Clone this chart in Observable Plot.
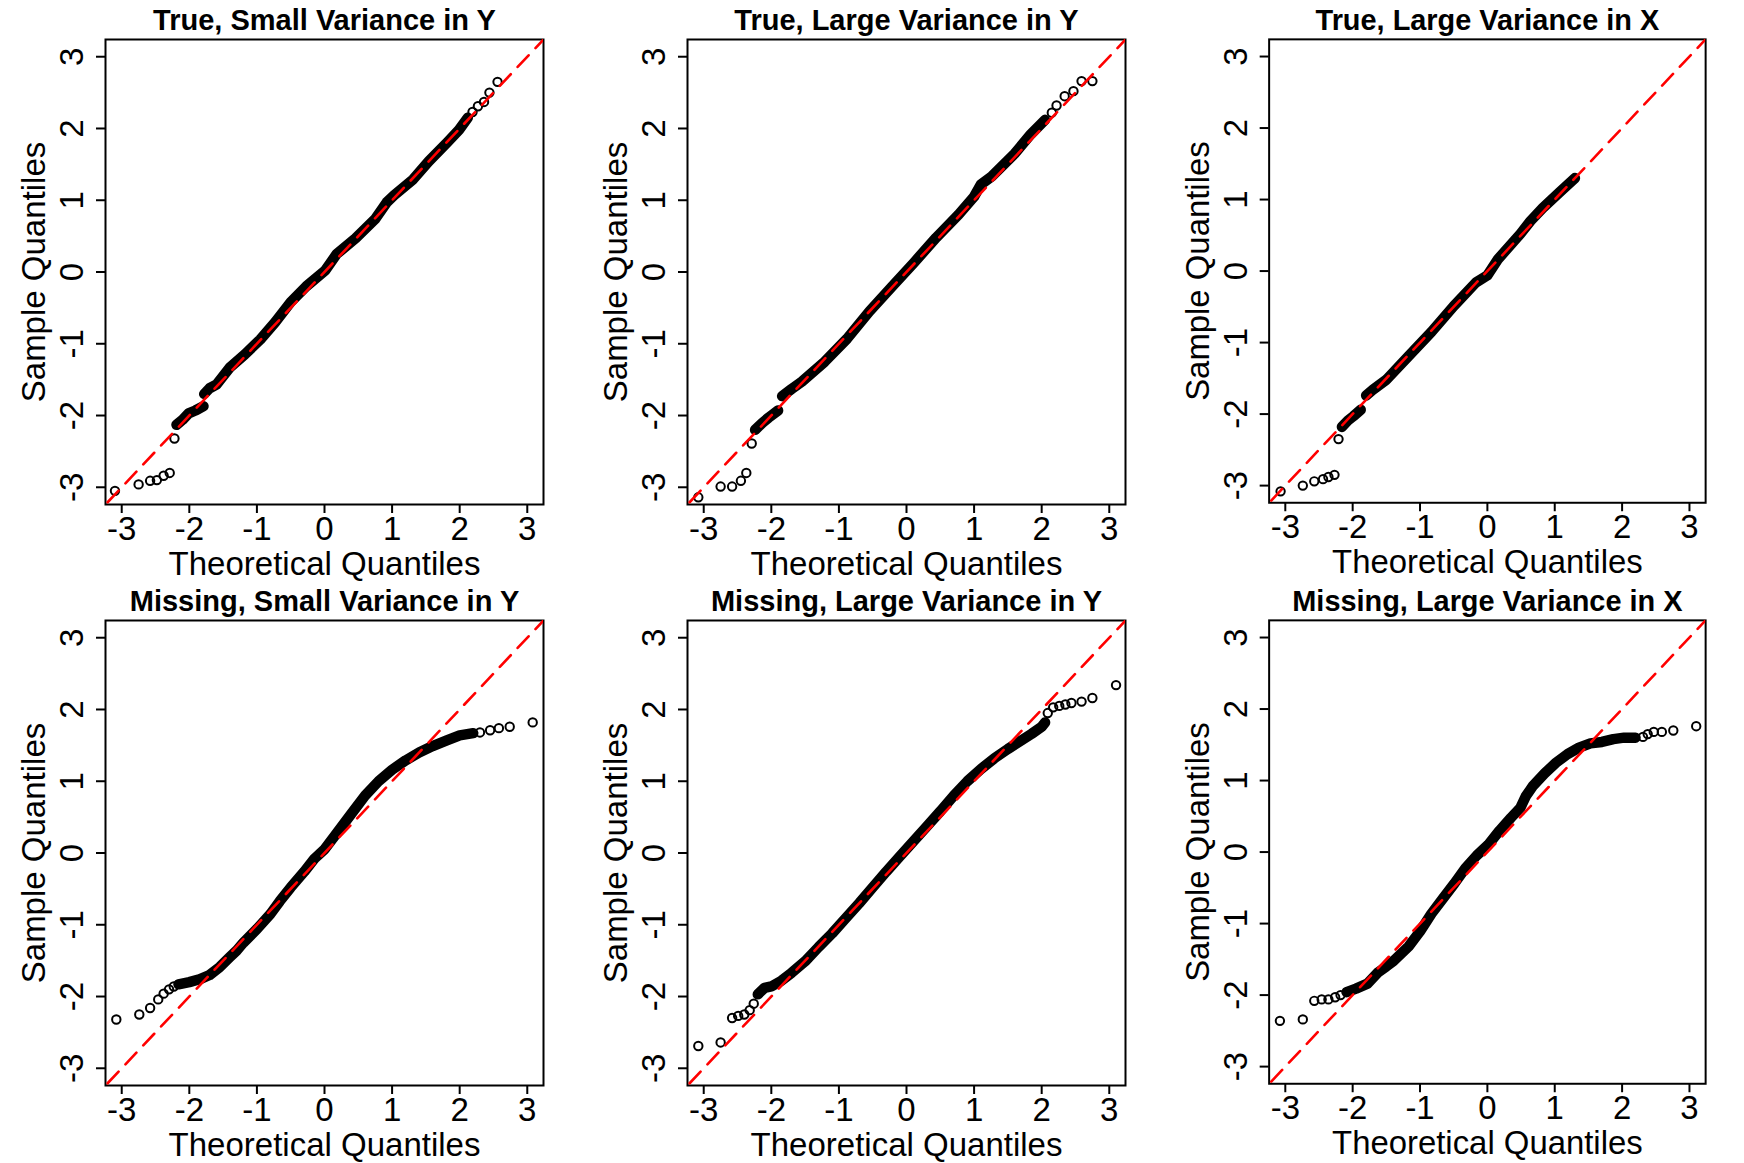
<!DOCTYPE html>
<html><head><meta charset="utf-8">
<script src="https://cdn.jsdelivr.net/npm/d3@7"></script>
<script src="https://cdn.jsdelivr.net/npm/@observablehq/plot@0.6"></script>
<style>
html,body{margin:0;padding:0;background:#fff;}
#chart{position:relative;width:1744px;height:1163px;overflow:hidden;background:#fff;}
#chart > div{position:absolute;}
</style></head><body><div id="chart"></div>
<script>
// ---- data ----
const titles = [
  "True, Small Variance in Y", "True, Large Variance in Y", "True, Large Variance in X",
  "Missing, Small Variance in Y", "Missing, Large Variance in Y", "Missing, Large Variance in X"
];
const tickValues = [-3, -2, -1, 0, 1, 2, 3];
const xLabel = "Theoretical Quantiles";
const yLabel = "Sample Quantiles";
const qqLineRange = [-4, 4]; // reference line y = x

// [theoretical, sample] pairs
const trueSmallYTails = [[-3.10,-3.05],[-2.75,-2.96],[-2.58,-2.91],[-2.48,-2.90],[-2.38,-2.84],[-2.29,-2.80],[-2.22,-2.32],
  [2.19,2.23],[2.27,2.31],[2.36,2.37],[2.44,2.50],[2.56,2.65]];
const trueSmallYBands = [
  [[-2.19,-2.13],[-2.10,-2.06],[-2.01,-1.97],[-1.91,-1.93],[-1.79,-1.87]],
  [[-1.78,-1.70],[-1.70,-1.62],[-1.60,-1.57],[-1.49,-1.44],[-1.40,-1.33],[-1.18,-1.15],[-0.95,-0.94],[-0.73,-0.70],
   [-0.50,-0.42],[-0.27,-0.20],[0.01,0.02],[0.18,0.25],[0.46,0.47],[0.75,0.74],[0.92,0.97],[1.03,1.07],[1.31,1.29],
   [1.54,1.54],[1.82,1.81],[1.99,1.98],[2.12,2.15]]
];

const trueLargeYTails = [[-3.08,-3.14],[-2.75,-2.99],[-2.58,-2.99],[-2.45,-2.91],[-2.37,-2.80],[-2.29,-2.39],
  [2.15,2.22],[2.22,2.32],[2.34,2.45],[2.47,2.52],[2.59,2.66],[2.75,2.66]];
const trueLargeYBands = [
  [[-2.24,-2.20],[-2.13,-2.10],[-2.04,-2.03],[-1.90,-1.93]],
  [[-1.84,-1.73],[-1.70,-1.63],[-1.55,-1.53],[-1.21,-1.25],[-0.88,-0.93],[-0.55,-0.55],[-0.22,-0.21],[0.11,0.13],
   [0.44,0.48],[0.77,0.80],[1.00,1.05],[1.10,1.22],[1.26,1.33],[1.60,1.65],[1.84,1.92],[2.05,2.12]]
];

const trueLargeXTails = [[-3.07,-3.08],[-2.74,-3.00],[-2.57,-2.94],[-2.44,-2.91],[-2.36,-2.88],[-2.27,-2.85],[-2.21,-2.35]];
const trueLargeXBands = [
  [[-2.16,-2.18],[-2.07,-2.09],[-1.99,-2.03],[-1.88,-1.94]],
  [[-1.80,-1.74],[-1.70,-1.66],[-1.50,-1.52],[-1.17,-1.19],[-0.83,-0.85],[-0.50,-0.49],[-0.17,-0.16],[0.00,-0.06],
   [0.16,0.17],[0.49,0.52],[0.64,0.70],[0.82,0.88],[1.07,1.10],[1.30,1.30]]
];

const missSmallYTails = [[-3.08,-2.32],[-2.74,-2.25],[-2.58,-2.16],[-2.46,-2.04],[-2.38,-1.96],[-2.30,-1.90],[-2.23,-1.86],
  [2.30,1.68],[2.45,1.71],[2.58,1.74],[2.74,1.76],[3.08,1.82]];
const missSmallYBands = [
  [[-2.16,-1.83],[-2.00,-1.80],[-1.85,-1.76],[-1.70,-1.70],[-1.55,-1.59],[-1.40,-1.45],[-1.30,-1.36],[-1.20,-1.25],
   [-1.00,-1.06],[-0.80,-0.85],[-0.66,-0.67],[-0.50,-0.48],[-0.30,-0.26],[-0.15,-0.08],[0.00,0.05],[0.20,0.30],
   [0.40,0.55],[0.60,0.80],[0.80,1.00],[1.00,1.16],[1.20,1.29],[1.40,1.40],[1.60,1.49],[1.81,1.57],[2.00,1.64],[2.20,1.67]]
];

const missLargeYTails = [[-3.08,-2.69],[-2.75,-2.64],[-2.58,-2.30],[-2.49,-2.27],[-2.40,-2.25],[-2.32,-2.19],[-2.26,-2.10],
  [2.09,1.95],[2.17,2.03],[2.26,2.05],[2.35,2.07],[2.44,2.09],[2.59,2.11],[2.75,2.16],[3.10,2.34]];
const missLargeYBands = [
  [[-2.20,-1.97],[-2.10,-1.88],[-2.00,-1.86],[-1.85,-1.78],[-1.70,-1.67],[-1.50,-1.51],[-1.30,-1.31],[-1.10,-1.12],
   [-0.90,-0.91],[-0.70,-0.70],[-0.50,-0.48],[-0.30,-0.26],[-0.10,-0.05],[0.10,0.16],[0.30,0.37],[0.50,0.58],
   [0.70,0.80],[0.90,1.00],[1.10,1.17],[1.30,1.32],[1.50,1.45],[1.70,1.57],[1.85,1.66],[2.00,1.76],[2.05,1.82]]
];

const missLargeXTails = [[-3.08,-2.36],[-2.74,-2.34],[-2.57,-2.08],[-2.46,-2.06],[-2.36,-2.06],[-2.26,-2.03],[-2.18,-2.00],
  [2.31,1.61],[2.38,1.65],[2.47,1.68],[2.59,1.68],[2.76,1.70],[3.10,1.76]];
const missLargeXBands = [
  [[-2.09,-1.96],[-1.95,-1.91],[-1.78,-1.84],[-1.62,-1.68],[-1.50,-1.60],[-1.39,-1.52],[-1.17,-1.32],[-1.00,-1.11],
   [-0.83,-0.86],[-0.66,-0.65],[-0.49,-0.44],[-0.33,-0.23],[-0.16,-0.05],[0.01,0.10],[0.18,0.30],[0.35,0.48],
   [0.49,0.62],[0.57,0.78],[0.68,0.93],[0.85,1.10],[1.02,1.25],[1.19,1.37],[1.36,1.46],[1.53,1.52],[1.70,1.54],
   [1.87,1.58],[2.03,1.60],[2.20,1.60]]
];

const panelTails = [trueSmallYTails, trueLargeYTails, trueLargeXTails, missSmallYTails, missLargeYTails, missLargeXTails];
const panelBands = [trueSmallYBands, trueLargeYBands, trueLargeXBands, missSmallYBands, missLargeYBands, missLargeXBands];

// ---- drawing ----
const FONT = "'Liberation Sans', Arial, Helvetica, sans-serif";
const fmt = d => (d < 0 ? "-" + Math.abs(d) : String(d));
const chart = document.getElementById("chart");

titles.forEach((title, i) => {
  const col = i % 3, row = Math.floor(i / 3);
  const bandRows = panelBands[i].flatMap((seg, k) => seg.map(([x, y]) => ({x, y, k})));
  const tailRows = panelTails[i].map(([x, y]) => ({x, y}));
  const svg = Plot.plot({
    width: 582, height: 581,
    marginLeft: 105, marginRight: 39, marginTop: 39, marginBottom: 77,
    x: {domain: [-3.24, 3.24], axis: null},
    y: {domain: [-3.24, 3.24], axis: null},
    style: {fontFamily: FONT, background: "transparent", color: "#000", overflow: "visible"},
    marks: [
      Plot.frame({stroke: "#000", strokeWidth: 2}),
      Plot.axisX(tickValues, {tickSize: 9, tickFormat: () => "", label: null, strokeWidth: 2}),
      Plot.axisY(tickValues, {tickSize: 9, tickFormat: () => "", label: null, strokeWidth: 2}),
      Plot.text(tickValues, {x: d => d, text: fmt, frameAnchor: "bottom", dy: 25, lineAnchor: "middle", textAnchor: "middle", fontSize: 33, fill: "#000"}),
      Plot.text(tickValues, {y: d => d, text: fmt, frameAnchor: "left", dx: -33, rotate: -90, lineAnchor: "middle", textAnchor: "middle", fontSize: 33, fill: "#000"}),
      Plot.line(bandRows, {x: "x", y: "y", z: "k", stroke: "#000", strokeWidth: 10.5, strokeLinecap: "round", strokeLinejoin: "round"}),
      Plot.dot(tailRows, {x: "x", y: "y", r: 4.2, stroke: "#000", strokeWidth: 2, fill: "none"}),
      Plot.line(qqLineRange, {x: d => d, y: d => d, stroke: "#ff0000", strokeWidth: 2.6, strokeDasharray: "16,10", clip: true}),
      Plot.text([title], {text: d => d, frameAnchor: "top", dy: -19, lineAnchor: "middle", textAnchor: "middle", fontSize: 29, fontWeight: "bold", fill: "#000"}),
      Plot.text([xLabel], {text: d => d, frameAnchor: "bottom", dy: 60, lineAnchor: "middle", textAnchor: "middle", fontSize: 33, fill: "#000"}),
      Plot.text([yLabel], {text: d => d, frameAnchor: "left", dx: -71, rotate: -90, lineAnchor: "middle", textAnchor: "middle", fontSize: 33, fill: "#000"})
    ]
  });
  const holder = document.createElement("div");
  holder.style.left = (col * 582) + "px";
  holder.style.top = (row * 581) + "px";
  holder.appendChild(svg);
  chart.appendChild(holder);
});
</script>
</body></html>
